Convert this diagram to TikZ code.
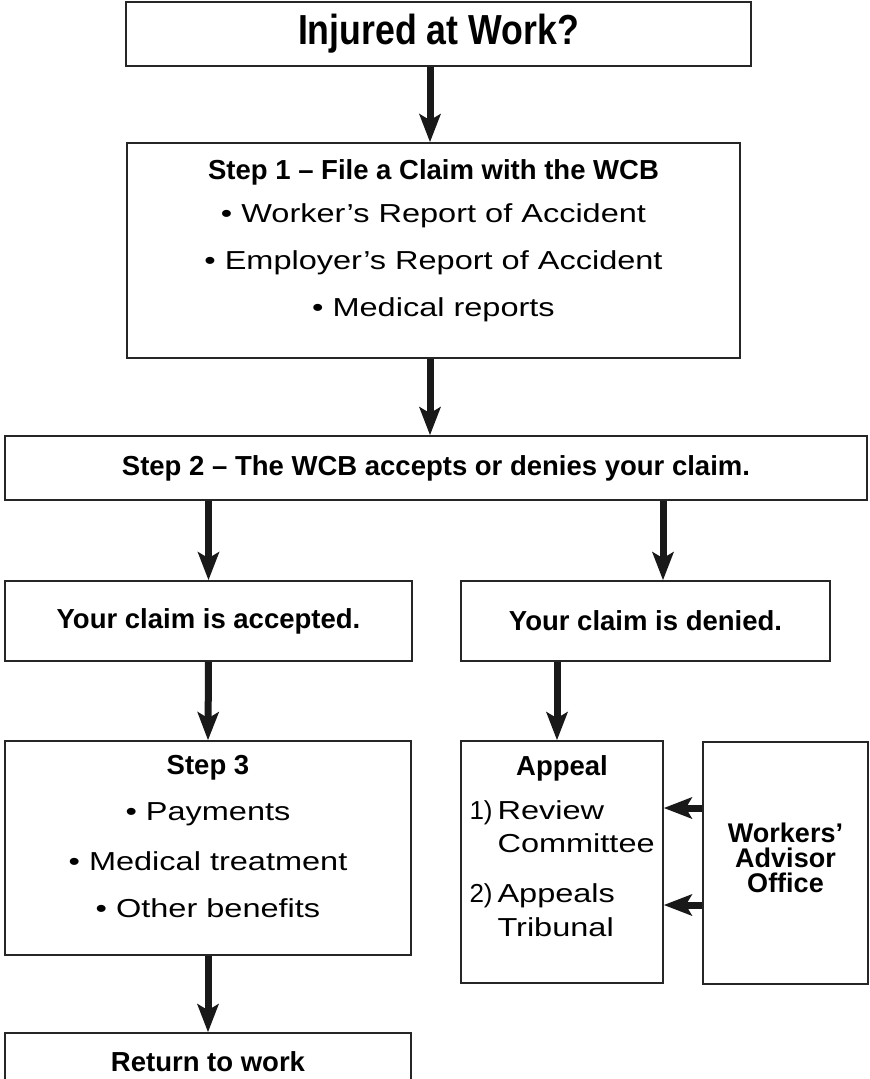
\documentclass[tikz,border=0pt]{standalone}
\usepackage{fontspec}
\setmainfont{Liberation Sans}
\newfontfamily\widefont[FakeStretch=1.25]{Liberation Sans}
\usetikzlibrary{arrows.meta}
\tikzset{
  box/.style={draw=black!85, line width=1.5pt, fill=white, inner sep=0pt, align=center},
  arr/.style={line width=7pt, draw=black!90, -{Stealth[length=28pt,width=21pt,inset=6pt]}},
  hd/.style={font=\fontsize{27.5}{25}\selectfont\bfseries},
  bd/.style={font=\widefont\fontsize{26}{30}\selectfont},
  num/.style={font=\fontsize{26}{30}\selectfont},
}
\begin{document}
\begin{tikzpicture}[x=1pt,y=-1pt]
\useasboundingbox (0,0) rectangle (870,1079);
\clip (0,0) rectangle (870,1079);
% boxes
\node[box, minimum width=625pt, minimum height=64pt] (top) at (438.5,34)
  {\fontsize{42}{46}\selectfont\bfseries\scalebox{0.85}[1]{Injured at Work?}};
\node[box, minimum width=613pt, minimum height=215pt] (s1) at (433.5,250.5) {};
\node[box, hd, minimum width=862pt, minimum height=64pt] (s2) at (436,468)
  {Step 2 -- The WCB accepts or denies your claim.};
\node[box, hd, minimum width=407pt, minimum height=80pt] (acc) at (208.5,621)
  {Your claim is accepted.};
\node[box, hd, minimum width=369pt, minimum height=80pt] (den) at (645.5,621)
  {Your claim is denied.};
\node[box, minimum width=406pt, minimum height=214pt] (s3) at (208,848) {};
\node[box, minimum width=202pt, minimum height=242pt] (app) at (562,862) {};
\node[box, minimum width=165pt, minimum height=242pt] (wao) at (785.5,863) {};
\node[hd, font=\fontsize{27}{25}\selectfont\bfseries, align=center] (waot) at (785.5,858)
  {Workers’\\Advisor\\Office};
\node[box, hd, minimum width=406pt, minimum height=58pt] (ret) at (208,1062)
  {Return to work};
% texts in step 1
\node[hd] (s1h) at (433.5,172) {Step 1 -- File a Claim with the WCB};
\node[bd] (s1a) at (433.5,216) {• Worker’s Report of Accident};
\node[bd] (s1b) at (433.5,263) {• Employer’s Report of Accident};
\node[bd] (s1c) at (433.5,310) {• Medical reports};
% texts in step 3
\node[hd] (s3h) at (208,768) {Step 3};
\node[bd] (s3a) at (208,814) {• Payments};
\node[bd] (s3b) at (208,861) {• Medical treatment};
\node[bd] (s3c) at (208,908) {• Other benefits};
% appeal
\node[hd] (aph) at (562,768) {Appeal};
\node[num, anchor=base west] (ap1) at (466,819) {1)};
\node[bd, anchor=base west] (ap1a) at (494,819) {Review};
\node[bd, anchor=base west] (ap1b) at (494,852) {Committee};
\node[num, anchor=base west] (ap2) at (466,902) {2)};
\node[bd, anchor=base west] (ap2a) at (494,902) {Appeals};
\node[bd, anchor=base west] (ap2b) at (494,936) {Tribunal};
% helper coordinates
\coordinate (c1) at ([xshift=-8.5pt]top.south);
\coordinate (c2) at ([xshift=-3.5pt]s1.north);
\coordinate (c3) at ([xshift=-3.5pt]s1.south);
\coordinate (c4) at ([xshift=17.5pt]den.north);
\coordinate (c5) at ([xshift=-5pt]app.north);
\coordinate (w1) at ([yshift=55pt]wao.west);
\coordinate (w2) at ([yshift=-42pt]wao.west);
% arrows
\draw[arr] (c1) -- (c2);
\draw[arr] (c3) -- (c3 |- s2.north);
\draw[arr] (acc.north |- s2.south) -- (acc.north);
\draw[arr] (c4 |- s2.south) -- (c4);
\draw[arr] (acc.south) -- (s3.north);
\draw[arr] (c5 |- den.south) -- (c5);
\draw[arr] (s3.south) -- (ret.north);
\draw[arr] (w1) -- (w1 -| app.east);
\draw[arr] (w2) -- (w2 -| app.east);
\end{tikzpicture}
\end{document}
